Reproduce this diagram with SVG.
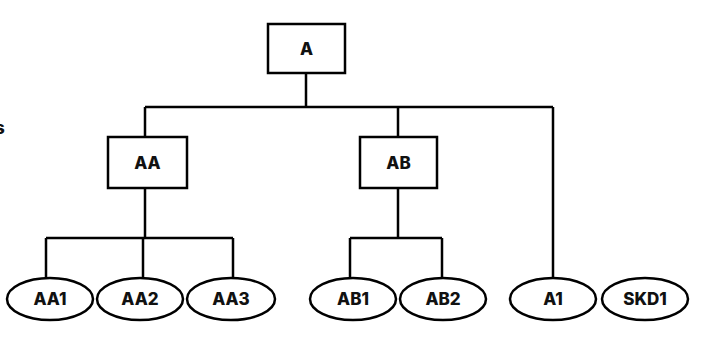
<svg xmlns="http://www.w3.org/2000/svg" width="720" height="338" viewBox="0 0 720 338">
<style>
.box{fill:#fff;stroke:#000;stroke-width:2.5}
.lbl{font-family:Inter,"Noto Sans","Liberation Sans",sans-serif;font-weight:800;font-size:17px;fill:#111;text-anchor:middle;dominant-baseline:central}
.con{fill:none;stroke:#000;stroke-width:2.5}
</style>
<rect width="720" height="338" fill="#fff"/>
<text x="-5" y="128" class="lbl" style="text-anchor:start">s</text>
<g id="connectors">
<path class="con" d="M306 74V107M145 107H553M145 107V137M398 107V137M553 107V278"/>
<path class="con" d="M145 188V238M46 238H233M46 238V278M143 238V278M233 238V278"/>
<path class="con" d="M398 188V238M350 238H442M350 238V278M442 238V278"/>
</g>
<g id="A"><rect class="box" x="268" y="24" width="77" height="49"/><text class="lbl" x="306.5" y="49">A</text></g>
<g id="AA"><rect class="box" x="108" y="137" width="79" height="51"/><text class="lbl" x="147.5" y="163">AA</text></g>
<g id="AB"><rect class="box" x="360" y="137" width="77" height="51"/><text class="lbl" x="398.5" y="163">AB</text></g>
<g id="AA1"><ellipse class="box" cx="50" cy="299" rx="43" ry="21"/><text class="lbl" x="50" y="299">AA1</text></g>
<g id="AA2"><ellipse class="box" cx="140" cy="299" rx="43" ry="21"/><text class="lbl" x="140" y="299">AA2</text></g>
<g id="AA3"><ellipse class="box" cx="231" cy="299" rx="44" ry="21"/><text class="lbl" x="231" y="299">AA3</text></g>
<g id="AB1"><ellipse class="box" cx="353" cy="299" rx="43" ry="21"/><text class="lbl" x="353" y="299">AB1</text></g>
<g id="AB2"><ellipse class="box" cx="443" cy="299" rx="43" ry="21"/><text class="lbl" x="443" y="299">AB2</text></g>
<g id="A1"><ellipse class="box" cx="553" cy="299" rx="43" ry="21"/><text class="lbl" x="553" y="299">A1</text></g>
<g id="SKD1"><ellipse class="box" cx="645" cy="299" rx="43" ry="21"/><text class="lbl" x="645" y="299">SKD1</text></g>
</svg>
